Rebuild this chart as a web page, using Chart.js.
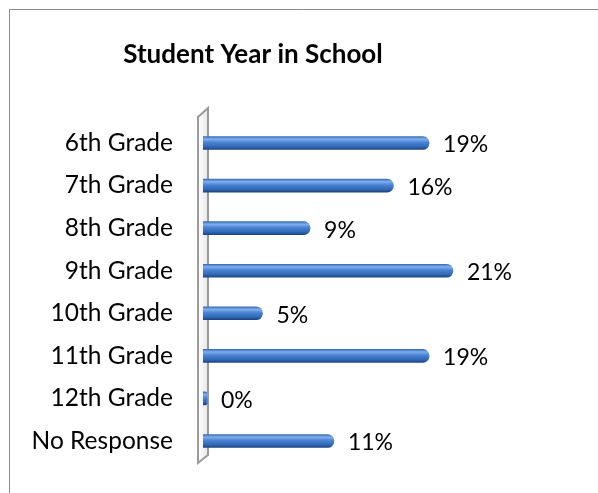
<!DOCTYPE html>
<html>
<head>
<meta charset="utf-8">
<script src="https://cdn.jsdelivr.net/npm/chart.js@4"></script>
<style>
  html, body { margin: 0; padding: 0; background: #fff; }
  #wrap { width: 598px; height: 493px; position: relative; }
</style>
</head>
<body>
<div id="wrap"><canvas id="chartGrados" width="598" height="493"></canvas></div>
<script>
// ── Datos ──
const grados  = ['6th Grade','7th Grade','8th Grade','9th Grade','10th Grade','11th Grade','12th Grade','No Response'];
const valores = [19, 16, 9, 21, 5, 19, 0, 11];
const titulo  = 'Student Year in School';

const FUENTE = 'Lato, "Open Sans", sans-serif';

// marco del gráfico (recortado a la derecha y abajo)
const marco = {
  id: 'marco',
  beforeDraw(chart) {
    const c = chart.ctx;
    c.save();
    c.strokeStyle = '#8a8a8a'; c.lineWidth = 1;
    c.beginPath();
    c.moveTo(9.5, chart.height); c.lineTo(9.5, 9.5); c.lineTo(chart.width, 9.5);
    c.stroke();
    c.restore();
  }
};

// pared 3D del eje vertical
const pared = {
  id: 'pared',
  beforeDatasetsDraw(chart) {
    const a = chart.chartArea, c = chart.ctx;
    const xl = a.left - 5, xr = a.left + 5;
    c.save();
    c.beginPath();
    c.moveTo(xl, a.top - 4.7); c.lineTo(xr, a.top - 13.7);
    c.lineTo(xr, a.bottom - 7.3); c.lineTo(xl, a.bottom + 0.7); c.closePath();
    const g = c.createLinearGradient(xl, 0, xr, 0);
    g.addColorStop(0, '#ffffff'); g.addColorStop(1, '#e6e6e6');
    c.fillStyle = g; c.fill();
    c.strokeStyle = '#9a9a9a'; c.lineWidth = 2; c.stroke();
    c.restore();
  }
};

// etiquetas de porcentaje
const etiquetas = {
  id: 'etiquetas',
  afterDatasetsDraw(chart) {
    const c = chart.ctx;
    const base = chart.scales.x.getPixelForValue(0);
    c.save();
    c.font = '23px ' + FUENTE;
    c.fillStyle = '#000'; c.textAlign = 'left'; c.textBaseline = 'middle';
    chart.getDatasetMeta(0).data.forEach((bar, i) => {
      const x = Math.max(bar.x, base + 2) + 14;
      c.fillText(valores[i] + '%', x, bar.y + 2);
    });
    c.restore();
  }
};

// degradado tipo cilindro
function gradienteBarra(ctx) {
  const chart = ctx.chart;
  const y = chart.scales && chart.scales.y;
  const yc = y ? y.getPixelForValue(ctx.dataIndex) : NaN;
  if (!isFinite(yc)) return '#3c78c8';
  const g = chart.ctx.createLinearGradient(0, yc - 6.5, 0, yc + 6.5);
  g.addColorStop(0, '#3a6db5');
  g.addColorStop(0.2, '#80aef0');
  g.addColorStop(0.45, '#4a84d2');
  g.addColorStop(0.8, '#2f67b4');
  g.addColorStop(1, '#1d4683');
  return g;
}

new Chart(document.getElementById('chartGrados'), {
  type: 'bar',
  data: {
    labels: grados,
    datasets: [{
      data: valores,
      backgroundColor: gradienteBarra,
      barThickness: 13,
      borderRadius: 6.5,
      borderSkipped: 'start',
      minBarLength: 4
    }]
  },
  options: {
    indexAxis: 'y',
    responsive: false,
    animation: false,
    devicePixelRatio: 1,
    layout: { padding: { left: 5.5, right: 97.5, top: 0, bottom: 30.7 } },
    plugins: {
      legend: { display: false },
      tooltip: { enabled: false },
      title: {
        display: true, text: titulo, color: '#000',
        font: { family: FUENTE, size: 26, weight: 'bold', lineHeight: 1.2 },
        padding: { top: 39.4, bottom: 51.1 }
      }
    },
    scales: {
      x: { display: false, min: 0, max: 25 },
      y: {
        grid: { display: false },
        border: { display: false },
        ticks: { color: '#000', padding: 22, font: { family: FUENTE, size: 24.5 } },
        afterFit(s) { s.width = 197.5; s.paddingTop = 0; s.paddingBottom = 0; }
      }
    }
  },
  plugins: [marco, pared, etiquetas]
});
</script>
</body>
</html>
